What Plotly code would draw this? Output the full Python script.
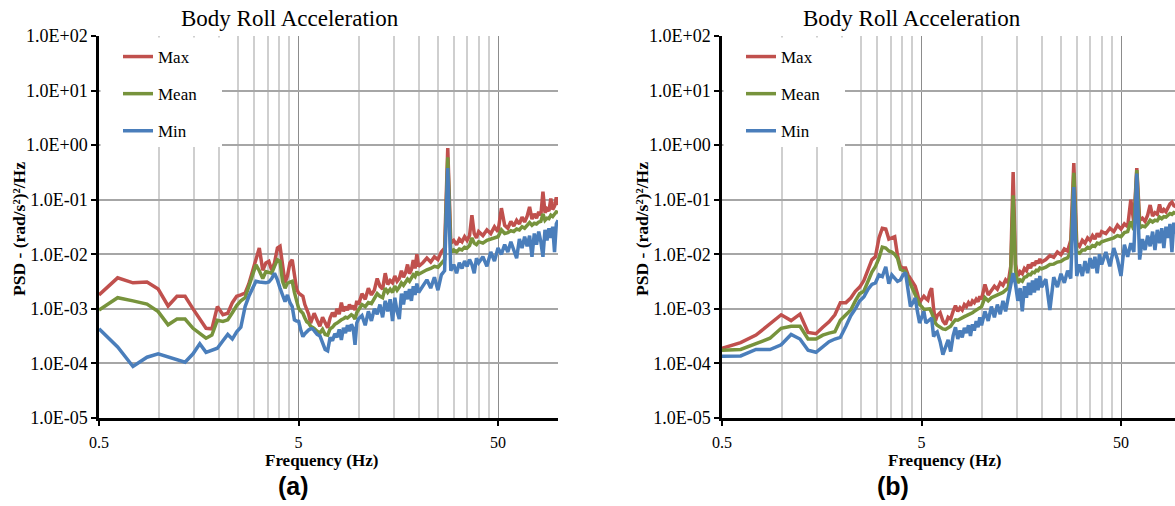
import math
import plotly.graph_objects as go

# Frequency bins (Hz) shared by both PSD panels
freq = [
    0.50, 0.62, 0.74, 0.87, 0.99, 1.11, 1.23, 1.35, 1.48, 1.60, 1.72, 1.84, 1.96, 2.09, 2.21, 2.33,
    2.45, 2.57, 2.70, 2.82, 2.94, 3.06, 3.18, 3.31, 3.43, 3.55, 3.67, 3.79, 3.92, 4.04, 4.16, 4.28,
    4.40, 4.53, 4.65, 4.77, 4.89, 5.01, 5.14, 5.26, 5.38, 5.50, 5.62, 5.75, 5.87, 5.99,
    6.2, 6.4, 6.6, 6.8, 7.0, 7.2, 7.4, 7.6, 7.8, 8.0, 8.2, 8.4, 8.6, 8.8, 9.0, 9.2, 9.4, 9.6, 9.8, 10.0,
    10.4, 10.8, 11.2, 11.6, 12.0, 12.4, 12.8, 13.2, 13.6, 14.0, 14.4, 14.8, 15.2, 15.6, 16.0, 16.4,
    16.8, 17.2, 17.6, 18.0, 18.4, 18.8, 19.2, 19.6, 20.0,
    21, 22, 23, 24, 25, 26, 27, 28, 29, 30, 31, 32, 33, 34, 35, 36, 37, 38, 39, 40,
    42, 44, 46, 48, 50, 52, 54, 56, 58, 60, 62, 64, 66, 68, 70, 72, 74, 76, 78, 80,
    82, 84, 86, 88, 90, 92, 94, 96, 98, 100,
]

# Panel (a): PSD of body roll acceleration, (rad/s^2)^2/Hz
a_max = [
    1.8e-3, 3.7e-3, 3.0e-3, 3.1e-3, 2.3e-3, 1.13e-3, 1.7e-3, 1.7e-3, 1.0e-3, 6.3e-4, 4.4e-4, 4.3e-4,
    1.1e-3, 7.8e-4, 8.3e-4, 1.3e-3, 1.7e-3, 1.8e-3, 1.95e-3, 2.9e-3, 5.0e-3, 7.9e-3, 1.3e-2, 5.1e-3,
    6.9e-3, 7.4e-3, 5.1e-3, 7.0e-3, 1.3e-2, 1.4e-2, 6.5e-3, 3.0e-3, 4.0e-3, 7.0e-3, 7.9e-3, 4.5e-3,
    2.3e-3, 1.95e-3, 1.8e-3, 1.7e-3, 1.2e-3, 9.6e-4, 8.0e-4, 5.5e-4, 6.5e-4, 8.3e-4,
    6.2e-4, 4.8e-4, 7.0e-4, 5.5e-4, 4.5e-4, 6.8e-4, 8.5e-4, 7.2e-4, 1.0e-3, 8.0e-4, 1.3e-3, 9.0e-4,
    1.1e-3, 9.5e-4, 1.2e-3, 1.0e-3, 1.15e-3, 9.5e-4, 1.4e-3, 1.2e-3,
    1.9e-3, 1.5e-3, 2.4e-3, 1.8e-3, 2.2e-3, 3.6e-3, 2.6e-3, 2.3e-3, 4.5e-3, 2.8e-3, 3.3e-3, 3.0e-3,
    4.0e-3, 3.2e-3, 3.6e-3, 5.0e-3, 3.8e-3, 4.6e-3, 6.5e-3, 4.4e-3, 5.2e-3, 7.8e-3, 5.5e-3, 1.0e-2, 6.0e-3,
    7.0e-3, 8.5e-3, 7.2e-3, 9.0e-3, 8.0e-3, 1.1e-2, 1.3e-2, 0.88, 1.6e-2, 1.8e-2, 1.5e-2, 1.9e-2,
    1.7e-2, 2.1e-2, 1.8e-2, 2.2e-2, 5.2e-2, 2.4e-2, 2.0e-2, 2.6e-2,
    2.2e-2, 2.8e-2, 2.4e-2, 3.2e-2, 2.6e-2, 7.0e-2, 3.4e-2, 3.0e-2, 4.0e-2, 3.3e-2, 4.2e-2, 3.6e-2,
    4.8e-2, 3.9e-2, 5.0e-2, 7.4e-2, 4.4e-2, 5.5e-2, 4.6e-2, 6.0e-2, 5.2e-2, 0.14, 5.8e-2, 6.8e-2,
    6.2e-2, 0.105, 6.6e-2, 7.6e-2, 0.11, 8.0e-2,
]
a_mean = [
    9.5e-4, 1.6e-3, 1.4e-3, 1.22e-3, 8.9e-4, 5.1e-4, 6.5e-4, 6.5e-4, 4.4e-4, 3.6e-4, 2.9e-4, 3.3e-4,
    6.2e-4, 5.9e-4, 6.3e-4, 8.5e-4, 1.15e-3, 1.4e-3, 1.6e-3, 2.6e-3, 4.2e-3, 6.4e-3, 5.0e-3, 3.6e-3,
    4.8e-3, 4.6e-3, 4.5e-3, 6.0e-3, 7.9e-3, 7.4e-3, 3.2e-3, 2.4e-3, 2.95e-3, 3.1e-3, 3.2e-3, 2.0e-3,
    1.3e-3, 1.02e-3, 9.0e-4, 8.3e-4, 6.8e-4, 5.8e-4, 5.5e-4, 4.8e-4, 4.6e-4, 4.4e-4,
    3.9e-4, 3.6e-4, 4.2e-4, 3.4e-4, 3.3e-4, 4.3e-4, 4.6e-4, 5.2e-4, 5.5e-4, 6.0e-4, 6.3e-4, 6.6e-4,
    7.0e-4, 6.8e-4, 7.5e-4, 7.8e-4, 7.4e-4, 6.5e-4, 8.6e-4, 9.5e-4,
    1.2e-3, 1.1e-3, 1.3e-3, 1.25e-3, 1.5e-3, 1.9e-3, 1.7e-3, 1.6e-3, 2.4e-3, 2.0e-3, 2.3e-3, 2.0e-3,
    2.6e-3, 2.2e-3, 2.5e-3, 3.0e-3, 2.7e-3, 3.1e-3, 3.5e-3, 3.2e-3, 3.6e-3, 4.2e-3, 3.9e-3, 4.8e-3, 4.3e-3,
    4.8e-3, 5.2e-3, 5.5e-3, 6.0e-3, 5.8e-3, 6.8e-3, 8.0e-3, 0.60, 1.1e-2, 1.2e-2, 1.1e-2, 1.25e-2,
    1.2e-2, 1.35e-2, 1.3e-2, 1.45e-2, 2.0e-2, 1.6e-2, 1.5e-2, 1.7e-2,
    1.6e-2, 1.8e-2, 1.9e-2, 2.0e-2, 2.1e-2, 2.8e-2, 2.4e-2, 2.5e-2, 2.7e-2, 2.6e-2, 2.9e-2, 2.8e-2,
    3.2e-2, 3.0e-2, 3.4e-2, 3.8e-2, 3.4e-2, 3.7e-2, 3.6e-2, 3.9e-2, 4.0e-2, 5.5e-2, 4.2e-2, 4.6e-2,
    4.5e-2, 5.2e-2, 4.9e-2, 5.4e-2, 6.0e-2, 5.8e-2,
]
a_min = [
    4.3e-4, 2.0e-4, 8.8e-5, 1.3e-4, 1.5e-4, 1.3e-4, 1.17e-4, 1.05e-4, 1.5e-4, 2.3e-4, 1.6e-4, 1.75e-4,
    1.9e-4, 2.6e-4, 3.4e-4, 2.8e-4, 3.8e-4, 4.6e-4, 1.1e-3, 1.7e-3, 2.3e-3, 3.2e-3, 3.1e-3, 3.0e-3,
    3.0e-3, 3.1e-3, 3.6e-3, 4.5e-3, 3.4e-3, 2.4e-3, 1.7e-3, 1.35e-3, 1.8e-3, 1.3e-3, 1.1e-3, 6.3e-4,
    6.0e-4, 5.9e-4, 4.0e-4, 3.1e-4, 3.5e-4, 3.9e-4, 4.1e-4, 4.3e-4, 4.3e-4, 4.0e-4,
    3.4e-4, 3.2e-4, 2.5e-4, 1.8e-4, 1.7e-4, 3.0e-4, 2.6e-4, 3.5e-4, 3.0e-4, 4.2e-4, 2.7e-4, 4.5e-4,
    3.6e-4, 5.0e-4, 3.9e-4, 5.2e-4, 4.4e-4, 2.2e-4, 5.5e-4, 6.6e-4,
    7.5e-4, 5.0e-4, 9.0e-4, 6.0e-4, 1.0e-3, 8.0e-4, 1.2e-3, 7.0e-4, 1.4e-3, 9.0e-4, 1.5e-3, 6.0e-4,
    1.6e-3, 9.0e-4, 6.5e-4, 1.9e-3, 1.2e-3, 2.1e-3, 1.5e-3, 2.3e-3, 1.4e-3, 2.6e-3, 1.8e-3, 2.9e-3, 2.0e-3,
    2.6e-3, 3.4e-3, 2.4e-3, 3.8e-3, 2.2e-3, 4.2e-3, 5.0e-3, 0.38, 5.0e-3, 6.5e-3, 4.5e-3, 7.0e-3,
    5.5e-3, 7.5e-3, 6.0e-3, 8.0e-3, 6.5e-3, 4.5e-3, 8.5e-3, 7.0e-3,
    9.0e-3, 6.0e-3, 1.1e-2, 7.5e-3, 1.3e-2, 1.0e-2, 1.5e-2, 1.1e-2, 1.7e-2, 1.2e-2, 8.5e-3, 1.9e-2,
    1.3e-2, 2.1e-2, 1.4e-2, 2.2e-2, 9.0e-3, 2.4e-2, 1.5e-2, 2.6e-2, 1.7e-2, 9.0e-3, 2.8e-2, 1.8e-2,
    3.0e-2, 2.0e-2, 3.2e-2, 1.1e-2, 3.6e-2, 4.2e-2,
]

# Panel (b)
b_max = [
    1.9e-4, 2.4e-4, 3.3e-4, 5.3e-4, 7.8e-4, 6.1e-4, 8.0e-4, 3.7e-4, 3.5e-4, 4.6e-4, 5.8e-4, 7.8e-4,
    1.3e-3, 1.3e-3, 1.58e-3, 2.1e-3, 2.5e-3, 3.3e-3, 5.0e-3, 7.9e-3, 9.1e-3, 2.0e-2, 3.0e-2, 2.9e-2,
    1.9e-2, 2.0e-2, 2.1e-2, 9.5e-3, 6.0e-3, 5.6e-3, 5.6e-3, 4.2e-3, 3.5e-3, 3.0e-3, 2.6e-3, 1.9e-3,
    1.3e-3, 1.5e-3, 1.7e-3, 1.55e-3, 1.45e-3, 2.0e-3, 2.4e-3, 1.0e-3, 6.0e-4, 7.5e-4,
    8.5e-4, 6.0e-4, 5.2e-4, 7.0e-4, 6.5e-4, 9.0e-4, 1.15e-3, 9.0e-4, 1.05e-3, 9.5e-4, 1.2e-3, 1.1e-3,
    1.3e-3, 1.15e-3, 1.4e-3, 1.3e-3, 1.5e-3, 1.35e-3, 1.7e-3, 1.5e-3,
    2.8e-3, 1.8e-3, 2.2e-3, 2.6e-3, 2.3e-3, 3.0e-3, 2.7e-3, 3.4e-3, 3.0e-3, 6.0e-3, 0.32, 6.5e-3,
    4.0e-3, 4.8e-3, 4.4e-3, 5.5e-3, 5.0e-3, 6.5e-3, 5.6e-3, 7.0e-3, 6.2e-3, 7.6e-3, 6.8e-3, 8.2e-3, 7.2e-3,
    8.0e-3, 9.5e-3, 8.8e-3, 1.1e-2, 9.8e-3, 1.25e-2, 1.15e-2, 1.8e-2, 0.47, 1.6e-2, 1.4e-2, 1.8e-2,
    1.6e-2, 2.0e-2, 1.8e-2, 2.2e-2, 1.9e-2, 2.4e-2, 2.1e-2, 2.6e-2,
    2.4e-2, 3.0e-2, 2.6e-2, 3.4e-2, 2.9e-2, 3.6e-2, 3.2e-2, 0.10, 3.8e-2, 0.38, 4.2e-2, 4.6e-2,
    4.0e-2, 5.2e-2, 8.0e-2, 5.0e-2, 5.8e-2, 5.4e-2, 8.2e-2, 5.8e-2, 6.6e-2, 6.0e-2, 7.0e-2, 8.4e-2,
    9.0e-2, 7.8e-2, 7.5e-2, 8.5e-2, 8.0e-2, 9.0e-2,
]
b_mean = [
    1.75e-4, 1.8e-4, 2.3e-4, 2.9e-4, 4.4e-4, 4.8e-4, 4.8e-4, 2.8e-4, 2.8e-4, 3.3e-4, 3.6e-4, 3.8e-4,
    6.2e-4, 8.0e-4, 9.5e-4, 1.4e-3, 1.9e-3, 2.1e-3, 3.2e-3, 4.7e-3, 6.0e-3, 8.5e-3, 1.35e-2, 1.3e-2,
    1.15e-2, 1.1e-2, 1.0e-2, 8.5e-3, 5.3e-3, 5.0e-3, 4.8e-3, 3.6e-3, 2.9e-3, 2.3e-3, 1.9e-3, 1.5e-3,
    1.2e-3, 1.1e-3, 9.8e-4, 9.8e-4, 1.0e-3, 1.0e-3, 8.5e-4, 6.5e-4, 5.5e-4, 5.0e-4,
    4.6e-4, 4.3e-4, 4.2e-4, 4.6e-4, 4.8e-4, 5.6e-4, 6.3e-4, 6.2e-4, 6.6e-4, 6.8e-4, 7.2e-4, 7.5e-4,
    7.8e-4, 8.0e-4, 8.5e-4, 9.0e-4, 9.5e-4, 9.8e-4, 1.05e-3, 1.1e-3,
    1.6e-3, 1.4e-3, 1.6e-3, 1.7e-3, 1.8e-3, 1.9e-3, 2.0e-3, 2.2e-3, 2.4e-3, 4.5e-3, 0.12, 5.0e-3,
    3.0e-3, 3.4e-3, 3.2e-3, 3.8e-3, 3.9e-3, 4.3e-3, 4.2e-3, 4.7e-3, 4.6e-3, 5.1e-3, 5.0e-3, 5.6e-3, 5.4e-3,
    5.8e-3, 6.5e-3, 6.6e-3, 7.2e-3, 7.4e-3, 8.2e-3, 8.6e-3, 1.1e-2, 0.31, 1.1e-2, 1.05e-2, 1.2e-2,
    1.2e-2, 1.35e-2, 1.3e-2, 1.45e-2, 1.4e-2, 1.6e-2, 1.55e-2, 1.7e-2,
    1.8e-2, 1.9e-2, 2.0e-2, 2.2e-2, 2.1e-2, 2.5e-2, 2.6e-2, 4.0e-2, 2.8e-2, 0.35, 3.0e-2, 3.3e-2,
    3.2e-2, 3.6e-2, 4.2e-2, 3.9e-2, 4.2e-2, 4.1e-2, 4.8e-2, 4.5e-2, 4.9e-2, 4.8e-2, 5.2e-2, 5.6e-2,
    5.4e-2, 5.8e-2, 5.6e-2, 6.0e-2, 5.9e-2, 6.4e-2,
]
b_min = [
    1.35e-4, 1.37e-4, 1.8e-4, 1.8e-4, 2.2e-4, 3.4e-4, 2.8e-4, 1.75e-4, 1.6e-4, 2.0e-4, 2.5e-4, 2.8e-4,
    3.0e-4, 4.8e-4, 7.5e-4, 1.0e-3, 1.4e-3, 1.65e-3, 2.3e-3, 2.8e-3, 3.0e-3, 4.2e-3, 3.9e-3, 5.9e-3,
    2.9e-3, 4.2e-3, 3.6e-3, 3.2e-3, 3.4e-3, 4.2e-3, 4.6e-3, 2.2e-3, 1.1e-3, 1.3e-3, 1.58e-3, 9.0e-4,
    5.5e-4, 7.0e-4, 9.0e-4, 5.5e-4, 6.0e-4, 6.5e-4, 6.8e-4, 3.1e-4, 3.6e-4, 3.8e-4,
    2.5e-4, 1.45e-4, 2.0e-4, 2.7e-4, 1.65e-4, 3.2e-4, 4.6e-4, 2.8e-4, 4.0e-4, 3.0e-4, 4.5e-4, 3.6e-4,
    5.0e-4, 3.2e-4, 5.2e-4, 4.0e-4, 6.0e-4, 4.6e-4, 7.0e-4, 5.0e-4,
    9.0e-4, 6.0e-4, 1.1e-3, 7.0e-4, 1.2e-3, 8.0e-4, 1.4e-3, 9.0e-4, 1.6e-3, 2.6e-3, 4.5e-3, 2.8e-3,
    1.4e-3, 2.4e-3, 9.0e-4, 2.6e-3, 1.6e-3, 3.0e-3, 1.8e-3, 3.3e-3, 2.0e-3, 3.6e-3, 2.2e-3, 4.0e-3, 2.5e-3,
    3.5e-3, 9.5e-4, 3.8e-3, 2.5e-3, 4.4e-3, 3.0e-3, 5.0e-3, 3.6e-3, 0.17, 4.0e-3, 6.5e-3, 4.0e-3,
    7.5e-3, 4.5e-3, 8.5e-3, 5.5e-3, 9.0e-3, 4.5e-3, 1.0e-2, 6.5e-3,
    1.1e-2, 6.0e-3, 1.3e-2, 8.0e-3, 4.0e-3, 1.5e-2, 9.0e-3, 1.6e-2, 1.1e-2, 0.30, 8.0e-3, 1.9e-2,
    1.2e-2, 2.2e-2, 1.4e-2, 2.6e-2, 1.2e-2, 2.8e-2, 1.6e-2, 3.0e-2, 1.3e-2, 3.2e-2, 2.0e-2, 3.6e-2,
    1.1e-2, 3.8e-2, 2.4e-2, 4.0e-2, 2.6e-2, 4.2e-2,
]

series_names = ["Max", "Mean", "Min"]
series_colors = ["#C0504D", "#77933C", "#4A7EBB"]

x_ticks = [0.5, 5, 50]
x_minor = [1, 1.5, 2, 2.5, 3, 3.5, 4, 4.5, 10, 15, 20, 25, 30, 35, 40, 45, 100]
y_ticks = [1e-5, 1e-4, 1e-3, 1e-2, 1e-1, 1e0, 1e1, 1e2]
y_labels = ["1.0E-05", "1.0E-04", "1.0E-03", "1.0E-02", "1.0E-01", "1.0E+00", "1.0E+01", "1.0E+02"]

W, H = 1175, 506
SERIF = "Liberation Serif"
SANS = "Liberation Sans"

fig = go.Figure()

panels = [
    dict(tag="a", data=[a_max, a_mean, a_min], x0=99, xend=100.0, legend="legend"),
    dict(tag="b", data=[b_max, b_mean, b_min], x0=722, xend=0.5 * 10 ** ((W - 722) / 199.5), legend="legend2"),
]

for i, p in enumerate(panels):
    xa = "x" if i == 0 else "x2"
    ya = "y" if i == 0 else "y2"
    for name, col, vals in zip(series_names, series_colors, p["data"]):
        fig.add_trace(go.Scatter(
            x=freq, y=vals, mode="lines", name=name,
            line=dict(color=col, width=3.5),
            xaxis=xa, yaxis=ya, legend=p["legend"],
            legendgroup=p["tag"] + name,
        ))

layout = dict(
    width=W, height=H,
    margin=dict(l=0, r=0, t=0, b=0, pad=0, autoexpand=False),
    paper_bgcolor="white", plot_bgcolor="white",
    showlegend=True,
    shapes=[],
)

y_dom = [1 - 418 / H, 1 - 36 / H]
for i, p in enumerate(panels):
    sfx = "" if i == 0 else "2"
    x_left = p["x0"]
    x_right = min(x_left + 199.5 * math.log10(p["xend"] / 0.5), W)
    layout["xaxis" + sfx] = dict(
        type="log", range=[math.log10(0.5), math.log10(p["xend"])],
        domain=[x_left / W, x_right / W], anchor="y" + sfx,
        automargin=False,
        tickvals=x_ticks, ticktext=["0.5", "5", "50"],
        tickfont=dict(family=SERIF, size=16, color="black"),
        ticks="outside", ticklen=5, tickwidth=1.5, tickcolor="black",
        ticklabelstandoff=3,
        showgrid=True, gridcolor="#8C8C8C", gridwidth=1.3,
        minor=dict(tickvals=x_minor, showgrid=True, gridcolor="#CFCFCF", gridwidth=2, ticks=""),
        showline=True, linecolor="black", linewidth=2.5,
        zeroline=False,
    )
    layout["yaxis" + sfx] = dict(
        type="log", range=[-5, 2], domain=y_dom, anchor="x" + sfx,
        automargin=False,
        tickvals=y_ticks, ticktext=y_labels,
        tickfont=dict(family=SERIF, size=18, color="black"),
        ticks="outside", ticklen=5, tickwidth=1.5, tickcolor="black",
        showgrid=True, gridcolor="#A6A6A6", gridwidth=1.5,
        showline=True, linecolor="black", linewidth=2.5,
        zeroline=False,
    )
    layout["legend" + sfx] = dict(
        x=x_left / W, y=1 - 39 / H, xanchor="left", yanchor="top",
        bgcolor="rgba(255,255,255,0)", borderwidth=0,
        font=dict(family=SERIF, size=17, color="black"),
        tracegroupgap=12, traceorder="grouped",
        indentation=19, itemwidth=30,
    )
    # white panel behind the legend entries
    layout["shapes"].append(dict(
        type="rect", xref="paper", yref="paper", layer="above",
        x0=(x_left + 1.5) / W, x1=(x_left + 123) / W,
        y0=1 - 147 / H, y1=1 - 37.5 / H,
        fillcolor="white", line=dict(width=0),
    ))

fig.update_layout(**layout)

# Titles and captions
for cx, tx, fx, cap_x, cap in [(289.5, 19, 321, 293, "(a)"), (912, 642, 944, 893, "(b)")]:
    fig.add_annotation(x=cx / W, y=1 - 18 / H, xref="paper", yref="paper",
                       xanchor="center", yanchor="middle",
                       text="Body Roll Acceleration", showarrow=False,
                       font=dict(family=SERIF, size=23, color="black"))
    fig.add_annotation(x=tx / W, y=1 - 229 / H, xref="paper", yref="paper",
                       xanchor="center", yanchor="middle",
                       text="<b>PSD - (rad/s²)²/Hz</b>", textangle=-90, showarrow=False,
                       font=dict(family=SERIF, size=17.5, color="black"))
    fig.add_annotation(x=fx / W, y=1 - 460 / H, xref="paper", yref="paper",
                       xanchor="center", yanchor="middle",
                       text="<b>Frequency (Hz)</b>", showarrow=False,
                       font=dict(family=SERIF, size=17, color="black"))
    fig.add_annotation(x=cap_x / W, y=1 - 486 / H, xref="paper", yref="paper",
                       xanchor="center", yanchor="middle",
                       text="<b>" + cap + "</b>", showarrow=False,
                       font=dict(family=SANS, size=25, color="black"))

fig.write_html("out.html")
